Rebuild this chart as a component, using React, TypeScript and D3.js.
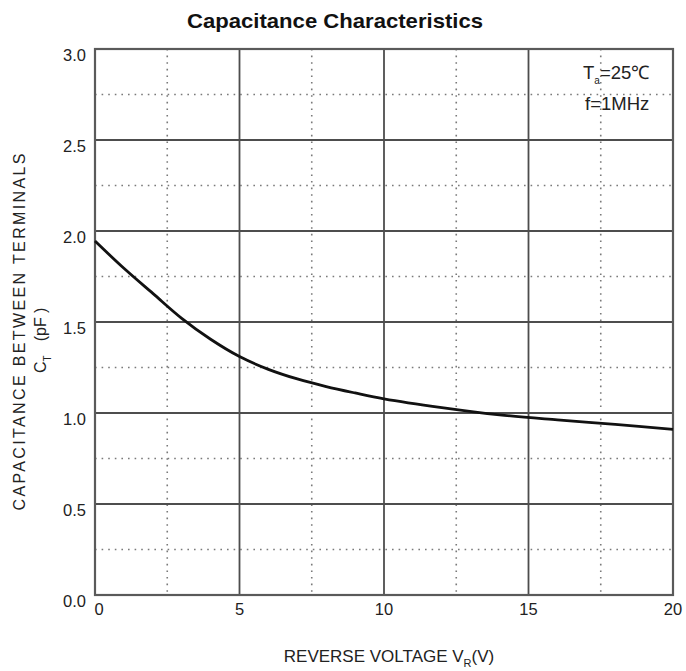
import * as d3 from 'd3';
import { useEffect, useRef } from 'react';

// Reverse voltage (V) and capacitance (pF)
const voltage = [0, 1, 2, 3, 4, 5, 6, 7, 8, 9, 10, 12, 14, 16, 18, 20];
const capacitance = [1.945, 1.795, 1.657, 1.52, 1.405, 1.31, 1.24, 1.187, 1.145, 1.11, 1.078, 1.03, 0.99, 0.962, 0.937, 0.91];

const xMajorTicks = [0, 5, 10, 15, 20];
const xMinorTicks = [2.5, 7.5, 12.5, 17.5];
const yMajorTicks = [0, 0.5, 1.0, 1.5, 2.0, 2.5, 3.0];
const yMinorTicks = [0.25, 0.75, 1.25, 1.75, 2.25, 2.75];

const WIDTH = 686;
const HEIGHT = 671;
const FONT = 'Arial, "Liberation Sans", sans-serif';

export default function App() {
  const svgRef = useRef<SVGSVGElement>(null);

  useEffect(() => {
    if (!svgRef.current) return;
    const svg = d3.select(svgRef.current);
    svg.selectAll('*').remove();

    const margin = { top: 49, right: 13, bottom: 76, left: 95 };
    const innerWidth = WIDTH - margin.left - margin.right;
    const innerHeight = HEIGHT - margin.top - margin.bottom;

    const x = d3.scaleLinear().domain([0, 20]).range([0, innerWidth]);
    const y = d3.scaleLinear().domain([0, 3]).range([innerHeight, 0]);

    const g = svg.append('g').attr('transform', `translate(${margin.left},${margin.top})`);

    // Minor dotted grid
    g.selectAll('.x-minor')
      .data(xMinorTicks)
      .enter()
      .append('line')
      .attr('x1', (d) => x(d))
      .attr('x2', (d) => x(d))
      .attr('y1', 0)
      .attr('y2', innerHeight)
      .attr('stroke', '#7a7a7a')
      .attr('stroke-width', 1.6)
      .attr('stroke-dasharray', '1.6,5');

    g.selectAll('.y-minor')
      .data(yMinorTicks)
      .enter()
      .append('line')
      .attr('x1', 0)
      .attr('x2', innerWidth)
      .attr('y1', (d) => y(d))
      .attr('y2', (d) => y(d))
      .attr('stroke', '#7a7a7a')
      .attr('stroke-width', 1.6)
      .attr('stroke-dasharray', '1.6,5');

    // Major solid grid
    g.selectAll('.x-major')
      .data(xMajorTicks)
      .enter()
      .append('line')
      .attr('x1', (d) => x(d))
      .attr('x2', (d) => x(d))
      .attr('y1', 0)
      .attr('y2', innerHeight)
      .attr('stroke', '#4d4d4d')
      .attr('stroke-width', 1.8);

    g.selectAll('.y-major')
      .data(yMajorTicks)
      .enter()
      .append('line')
      .attr('x1', 0)
      .attr('x2', innerWidth)
      .attr('y1', (d) => y(d))
      .attr('y2', (d) => y(d))
      .attr('stroke', '#4d4d4d')
      .attr('stroke-width', 1.8);

    // Frame
    g.append('rect')
      .attr('width', innerWidth)
      .attr('height', innerHeight)
      .attr('fill', 'none')
      .attr('stroke', '#5a5a5a')
      .attr('stroke-width', 2.2);

    // Curve
    const line = d3
      .line<number>()
      .x((d) => x(d))
      .y((_, i) => y(capacitance[i]))
      .curve(d3.curveCatmullRom);

    g.append('path')
      .datum(voltage)
      .attr('d', line)
      .attr('fill', 'none')
      .attr('stroke', '#111')
      .attr('stroke-width', 2.8);

    // Y tick labels
    g.selectAll('.y-label')
      .data(yMajorTicks)
      .enter()
      .append('text')
      .attr('x', -9)
      .attr('y', (d) => y(d) + 8)
      .attr('text-anchor', 'end')
      .attr('dominant-baseline', 'middle')
      .attr('fill', '#222')
      .style('font-family', FONT)
      .style('font-size', '16.5px')
      .text((d) => d.toFixed(1));

    // X tick labels
    g.selectAll('.x-label')
      .data(xMajorTicks)
      .enter()
      .append('text')
      .attr('x', (d) => x(d) + (d === 0 ? 4 : 0))
      .attr('y', innerHeight + 16)
      .attr('text-anchor', 'middle')
      .attr('dominant-baseline', 'middle')
      .attr('fill', '#222')
      .style('font-family', FONT)
      .style('font-size', '16.5px')
      .text((d) => String(d));

    // Title
    svg
      .append('text')
      .attr('x', 335)
      .attr('y', 28)
      .attr('text-anchor', 'middle')
      .attr('fill', '#111')
      .attr('textLength', 296)
      .attr('lengthAdjust', 'spacingAndGlyphs')
      .style('font-family', FONT)
      .style('font-size', '21px')
      .style('font-weight', 'bold')
      .text('Capacitance Characteristics');

    // X axis title
    const xt = svg
      .append('text')
      .attr('x', 389)
      .attr('y', 662)
      .attr('text-anchor', 'middle')
      .attr('fill', '#222')
      .style('font-family', FONT)
      .style('font-size', '17px');
    xt.append('tspan').text('REVERSE VOLTAGE V');
    xt.append('tspan').attr('dy', 5).style('font-size', '11px').text('R');
    xt.append('tspan').attr('dy', -5).text('(V)');

    // Y axis title
    svg
      .append('text')
      .attr('transform', 'translate(25,332) rotate(-90)')
      .attr('text-anchor', 'middle')
      .attr('fill', '#222')
      .attr('textLength', 357)
      .attr('lengthAdjust', 'spacing')
      .style('font-family', FONT)
      .style('font-size', '16px')
      .text('CAPACITANCE BETWEEN TERMINALS');

    const yt = svg
      .append('text')
      .attr('transform', 'translate(46,373) rotate(-90)')
      .attr('text-anchor', 'start')
      .attr('fill', '#222')
      .style('font-family', FONT)
      .style('font-size', '16px');
    yt.append('tspan').text('C');
    yt.append('tspan').attr('dy', 5).style('font-size', '10px').text('T');
    yt.append('tspan').attr('dy', -5).attr('dx', 14).text('(pF )');

    // Conditions
    const ann = svg
      .append('text')
      .attr('x', 583)
      .attr('y', 79)
      .attr('fill', '#222')
      .style('font-family', FONT)
      .style('font-size', '18.5px');
    ann.append('tspan').text('T');
    ann.append('tspan').attr('dy', 5).style('font-size', '10px').text('a');
    ann.append('tspan').attr('dy', -5).text('=25℃');

    svg
      .append('text')
      .attr('x', 585)
      .attr('y', 110)
      .attr('fill', '#222')
      .style('font-family', FONT)
      .style('font-size', '18.5px')
      .text('f=1MHz');
  }, []);

  return (
    <div style={{ position: 'absolute', left: 0, top: 0, background: '#fff' }}>
      <svg ref={svgRef} width={WIDTH} height={HEIGHT} style={{ display: 'block' }} />
    </div>
  );
}
